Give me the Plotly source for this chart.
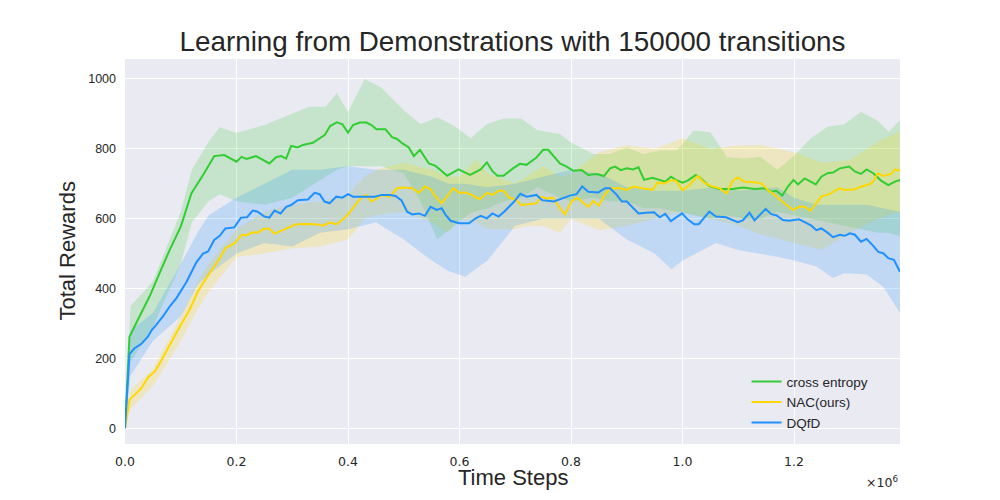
import plotly.graph_objects as go

# ---------------- data (x in units of 1e6 time steps) ----------------
ce_x = [0, 0.008, 0.026, 0.044, 0.062, 0.080, 0.100, 0.119, 0.140, 0.160, 0.178, 0.200, 0.209, 0.218,
        0.235, 0.259, 0.271, 0.280, 0.289, 0.298, 0.310, 0.319, 0.337, 0.349, 0.358, 0.368, 0.380,
        0.390, 0.400, 0.409, 0.421, 0.433, 0.442, 0.451, 0.467, 0.479, 0.488, 0.497, 0.509, 0.518,
        0.529, 0.545, 0.557, 0.578, 0.598, 0.619, 0.638, 0.649, 0.659, 0.668, 0.679, 0.696, 0.708,
        0.720, 0.738, 0.750, 0.759, 0.780, 0.792, 0.804, 0.819, 0.831, 0.846, 0.859, 0.870, 0.879,
        0.889, 0.900, 0.911, 0.921, 0.931, 0.946, 0.958, 0.969, 0.979, 0.988, 1.000, 1.009, 1.024,
        1.033, 1.048, 1.066, 1.090, 1.108, 1.129, 1.147, 1.159, 1.168, 1.179, 1.189, 1.199, 1.207,
        1.219, 1.239, 1.249, 1.260, 1.270, 1.282, 1.299, 1.309, 1.320, 1.330, 1.342, 1.356, 1.369,
        1.381, 1.390]
ce_y = [0, 262, 320, 377, 444, 510, 577, 672, 725, 779, 782, 763, 777, 771,
        779, 758, 776, 779, 772, 808, 804, 811, 817, 830, 839, 865, 876,
        870, 846, 868, 875, 875, 868, 856, 856, 833, 828, 816, 804, 779,
        797, 758, 751, 723, 741, 725, 741, 761, 736, 723, 723, 744, 757,
        754, 775, 797, 797, 758, 749, 737, 739, 725, 728, 722, 744, 749,
        739, 744, 741, 747, 711, 717, 711, 706, 720, 711, 703, 709, 725,
        715, 693, 685, 685, 689, 685, 687, 677, 680, 666, 692, 711, 698,
        715, 698, 720, 730, 732, 744, 749, 735, 728, 741, 730, 709, 696,
        706, 711]

nac_x = [0, 0.008, 0.017, 0.029, 0.042, 0.053, 0.060, 0.078, 0.098, 0.116, 0.131, 0.146, 0.161, 0.170,
         0.180, 0.197, 0.209, 0.217, 0.229, 0.238, 0.249, 0.259, 0.268, 0.289, 0.307, 0.325, 0.343,
         0.355, 0.367, 0.379, 0.388, 0.400, 0.412, 0.424, 0.433, 0.442, 0.451, 0.460, 0.475, 0.488,
         0.500, 0.515, 0.527, 0.538, 0.548, 0.557, 0.568, 0.578, 0.589, 0.599, 0.611, 0.622, 0.632,
         0.638, 0.649, 0.659, 0.670, 0.679, 0.689, 0.701, 0.710, 0.723, 0.738, 0.746, 0.756, 0.768,
         0.778, 0.789, 0.801, 0.811, 0.820, 0.831, 0.840, 0.850, 0.859, 0.870, 0.888, 0.900, 0.912,
         0.930, 0.946, 0.955, 0.967, 0.979, 0.988, 1.000, 1.012, 1.027, 1.039, 1.051, 1.066, 1.079,
         1.090, 1.099, 1.111, 1.129, 1.141, 1.153, 1.165, 1.177, 1.189, 1.198, 1.209, 1.219, 1.229,
         1.240, 1.249, 1.264, 1.281, 1.291, 1.309, 1.321, 1.336, 1.342, 1.350, 1.360, 1.374, 1.381,
         1.390]
nac_y = [0, 82, 95, 114, 147, 162, 180, 233, 290, 340, 392, 430, 465, 487,
         515, 530, 554, 552, 561, 560, 571, 571, 557, 571, 584, 585, 584,
         580, 589, 584, 594, 612, 636, 661, 668, 649, 657, 668, 663, 687,
         689, 687, 674, 692, 684, 663, 644, 665, 687, 674, 675, 668, 658,
         658, 674, 668, 680, 680, 660, 655, 639, 641, 644, 663, 658, 660,
         634, 612, 649, 660, 649, 634, 651, 637, 665, 687, 687, 682, 692,
         687, 682, 703, 701, 709, 709, 682, 696, 722, 703, 693, 687, 672,
         709, 718, 706, 704, 701, 682, 668, 651, 636, 625, 634, 634, 622,
         646, 663, 671, 687, 682, 684, 692, 699, 706, 730, 722, 728, 741,
         737]

dq_x = [0, 0.008, 0.017, 0.029, 0.041, 0.048, 0.056, 0.068, 0.080, 0.092, 0.110, 0.128, 0.140, 0.149,
        0.160, 0.170, 0.180, 0.196, 0.208, 0.219, 0.229, 0.238, 0.250, 0.259, 0.268, 0.279, 0.289,
        0.298, 0.310, 0.328, 0.340, 0.349, 0.358, 0.367, 0.379, 0.390, 0.400, 0.409, 0.433, 0.448,
        0.460, 0.475, 0.485, 0.496, 0.506, 0.515, 0.527, 0.538, 0.548, 0.559, 0.568, 0.575, 0.584,
        0.599, 0.617, 0.629, 0.638, 0.649, 0.659, 0.670, 0.680, 0.698, 0.709, 0.720, 0.738, 0.748,
        0.769, 0.783, 0.798, 0.810, 0.820, 0.831, 0.849, 0.861, 0.870, 0.882, 0.891, 0.900, 0.909,
        0.921, 0.934, 0.949, 0.959, 0.969, 0.979, 0.999, 1.009, 1.021, 1.029, 1.048, 1.060, 1.078,
        1.099, 1.108, 1.120, 1.129, 1.149, 1.159, 1.168, 1.180, 1.191, 1.209, 1.219, 1.231, 1.240,
        1.249, 1.260, 1.270, 1.282, 1.291, 1.300, 1.309, 1.320, 1.330, 1.342, 1.351, 1.360, 1.369,
        1.379, 1.390]
dq_y = [0, 212, 229, 241, 262, 281, 296, 320, 348, 372, 418, 475, 500, 506,
        539, 551, 572, 575, 603, 604, 623, 620, 606, 603, 623, 615, 634,
        639, 653, 655, 674, 670, 649, 644, 663, 660, 670, 663, 663, 663,
        668, 668, 665, 652, 620, 612, 615, 608, 634, 625, 630, 611, 594,
        587, 587, 601, 608, 601, 615, 606, 620, 649, 671, 663, 668, 653,
        649, 658, 666, 670, 692, 677, 675, 687, 687, 668, 649, 649, 634,
        615, 617, 618, 604, 614, 593, 615, 598, 584, 584, 620, 606, 604,
        590, 595, 617, 595, 628, 613, 610, 596, 594, 598, 590, 580, 567,
        572, 560, 547, 554, 551, 558, 554, 534, 542, 522, 505, 501, 487,
        482, 448]

# shaded spread bands
ce_band_x = [0, 0.01, 0.05, 0.10, 0.12, 0.15, 0.17, 0.20, 0.25, 0.30, 0.33, 0.36, 0.38, 0.40, 0.43,
             0.46, 0.50, 0.53, 0.56, 0.59, 0.62, 0.65, 0.68, 0.71, 0.74, 0.78, 0.80, 0.84, 0.87,
             0.90, 0.93, 0.96, 0.99, 1.02, 1.05, 1.08, 1.11, 1.14, 1.17, 1.20, 1.23, 1.26, 1.29,
             1.32, 1.35, 1.37, 1.39]
ce_upper = [0, 350, 420, 620, 740, 820, 862, 845, 868, 900, 920, 920, 960, 905, 1000,
            975, 910, 870, 890, 866, 830, 872, 887, 887, 853, 842, 818, 785, 785,
            804, 785, 795, 795, 852, 847, 776, 772, 777, 740, 780, 830, 863, 870,
            906, 880, 849, 882]
ce_lower = [0, 190, 290, 470, 590, 650, 670, 650, 640, 660, 690, 720, 740, 750, 750,
            750, 730, 650, 540, 580, 616, 630, 650, 660, 690, 660, 650, 660, 650,
            650, 630, 630, 620, 610, 600, 610, 600, 600, 620, 610, 600, 590, 580,
            570, 560, 560, 550]

nac_band_x = [0, 0.01, 0.05, 0.10, 0.13, 0.15, 0.20, 0.25, 0.30, 0.35, 0.40, 0.43, 0.45, 0.50, 0.55,
              0.58, 0.60, 0.63, 0.65, 0.70, 0.72, 0.75, 0.78, 0.80, 0.85, 0.90, 0.95, 1.00, 1.05,
              1.10, 1.14, 1.20, 1.25, 1.30, 1.35, 1.39]
nac_upper = [0, 110, 170, 320, 420, 470, 570, 620, 640, 650, 670, 720, 740, 760, 740,
             720, 720, 770, 730, 700, 720, 750, 720, 730, 790, 810, 800, 830, 800,
             810, 811, 790, 760, 768, 820, 850]
nac_lower = [0, 55, 120, 250, 340, 390, 490, 500, 515, 520, 540, 600, 610, 620, 590,
             560, 600, 590, 570, 570, 580, 578, 560, 600, 567, 580, 600, 620, 600,
             580, 555, 530, 510, 560, 600, 620]

dq_band_x = [0, 0.01, 0.05, 0.10, 0.13, 0.15, 0.20, 0.25, 0.30, 0.35, 0.40, 0.45, 0.50, 0.55, 0.58,
             0.61, 0.65, 0.70, 0.75, 0.80, 0.85, 0.90, 0.95, 0.98, 1.00, 1.06, 1.10, 1.17, 1.20,
             1.24, 1.27, 1.29, 1.33, 1.36, 1.39]
dq_upper = [0, 280, 330, 470, 560, 610, 660, 700, 740, 740, 750, 740, 740, 720, 700,
            700, 690, 700, 720, 740, 730, 690, 680, 680, 680, 690, 680, 690, 660,
            640, 640, 640, 640, 630, 620]
dq_lower = [0, 150, 250, 320, 410, 440, 500, 530, 520, 560, 570, 590, 540, 480, 450,
            434, 480, 580, 600, 600, 600, 540, 500, 455, 480, 530, 510, 491, 480,
            463, 430, 444, 440, 405, 330]

x_tick_vals = [0.0, 0.2, 0.4, 0.6, 0.8, 1.0, 1.2]
x_tick_text = ["0.0", "0.2", "0.4", "0.6", "0.8", "1.0", "1.2"]
y_tick_vals = [0, 200, 400, 600, 800, 1000]

series = [
    ("cross entropy", ce_x, ce_y, ce_band_x, ce_upper, ce_lower, "#32CD32", "rgba(50,205,50,0.2)"),
    ("NAC(ours)", nac_x, nac_y, nac_band_x, nac_upper, nac_lower, "#FFD700", "rgba(255,215,0,0.2)"),
    ("DQfD", dq_x, dq_y, dq_band_x, dq_upper, dq_lower, "#1E90FF", "rgba(30,144,255,0.2)"),
]

fig = go.Figure()
for name, x, y, bx, up, lo, col, fcol in series:
    fig.add_trace(go.Scatter(x=bx, y=lo, mode="lines", line=dict(width=0, color=fcol),
                             showlegend=False, hoverinfo="skip"))
    fig.add_trace(go.Scatter(x=bx, y=up, mode="lines", line=dict(width=0, color=fcol),
                             fill="tonexty", fillcolor=fcol, showlegend=False, hoverinfo="skip"))
for name, x, y, bx, up, lo, col, fcol in series:
    fig.add_trace(go.Scatter(x=x, y=y, mode="lines", name=name, line=dict(width=2, color=col)))

txt = "#262626"
fig.update_layout(
    width=1000, height=500,
    margin=dict(l=117, r=108, t=51, b=64),
    paper_bgcolor="white", plot_bgcolor="#EAEAF2",
    title=dict(text="Learning from Demonstrations with 150000 transitions",
               font=dict(family="Liberation Sans, Arial", size=27.8, color=txt),
               x=0.5045, xanchor="center", xref="container", y=0.934, yanchor="middle", yref="container"),
    showlegend=True,
    legend=dict(x=0.802, y=0.202, xanchor="left", yanchor="top", bgcolor="rgba(0,0,0,0)",
                font=dict(family="Liberation Sans, Arial", size=13.5, color=txt),
                traceorder="normal", tracegroupgap=0),
    xaxis=dict(range=[0, 1.39], tickvals=x_tick_vals, ticktext=x_tick_text,
               showgrid=True, gridcolor="white", gridwidth=1, zeroline=False, showline=False,
               ticks="", ticklabelstandoff=8,
               tickfont=dict(family="DejaVu Sans", size=12.5, color=txt)),
    yaxis=dict(range=[-45, 1057], tickvals=y_tick_vals,
               showgrid=True, gridcolor="white", gridwidth=1, zeroline=False, showline=False,
               ticks="", ticklabelstandoff=8,
               tickfont=dict(family="Liberation Sans, Arial", size=12.5, color=txt)),
    annotations=[
        dict(text="Time Steps", x=0.5, y=0, xref="paper", yref="paper", xanchor="center",
             yanchor="middle", yshift=-33, showarrow=False,
             font=dict(family="Liberation Sans, Arial", size=22, color=txt)),
        dict(text="Total Rewards", x=0, y=0.5, xref="paper", yref="paper", xanchor="center",
             yanchor="middle", xshift=-58, textangle=-90, showarrow=False,
             font=dict(family="Liberation Sans, Arial", size=22, color=txt)),
        dict(text="×10<sup>6</sup>", x=1, y=0, xref="paper", yref="paper", xanchor="right",
             yanchor="middle", yshift=-38, showarrow=False,
             font=dict(family="DejaVu Sans", size=12.5, color=txt)),
    ],
)

fig.write_html("out.html")
